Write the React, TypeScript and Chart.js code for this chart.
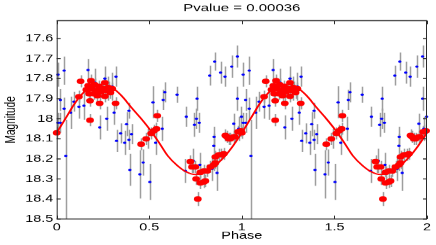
import React, { useEffect, useRef } from 'react';
import { Chart, registerables } from 'chart.js';

Chart.register(...registerables);

// ---- data (one phase cycle, drawn twice: phase 0-1 and 1-2) ----
const cycles = [0, 1];

const bluePhase = [
  0.007, 0.04, 0.02, 0.04, 0.075, 0.093, 0.12, 0.147, 0.169, 0.206,
  0.26, 0.277, 0.30, 0.32, 0.31, 0.27, 0.39, 0.377, 0.007, 0.02,
  0.049, 0.232, 0.323, 0.345, 0.367, 0.39, 0.404, 0.395, 0.449, 0.467,
  0.503, 0.534, 0.57, 0.494, 0.695, 0.737, 0.773, 0.744, 0.77, 0.85,
  0.848, 0.839, 0.866, 0.956, 0.983, 0.52, 0.575, 0.584, 0.65, 0.70,
  0.755, 0.758, 0.826, 0.853, 0.885, 0.909, 0.945, 0.976, 0.976, 0.998,
];
const blueMag = [
  17.78, 17.76, 17.906, 17.95, 17.97, 17.915, 17.94, 17.935, 17.757, 17.82,
  17.80, 17.85, 17.84, 17.79, 17.97, 18.0, 17.96, 18.027, 18.02, 18.02,
  18.185, 18.043, 18.11, 18.073, 18.12, 18.105, 18.077, 18.255, 18.277, 18.218,
  18.315, 18.12, 18.05, 18.10, 18.26, 18.21, 18.23, 18.03, 18.02, 18.09,
  18.135, 18.25, 18.27, 18.025, 18.05, 17.918, 17.906, 17.868, 17.88, 17.99,
  18.0, 17.90, 17.785, 17.715, 17.77, 17.79, 17.74, 17.69, 17.90, 17.99,
];
// error half-lengths (a pair is [towards smaller magnitude, towards larger magnitude])
const blueErr: (number | number[])[] = [
  0.06, 0.07, 0.055, 0.055, 0.08, 0.05, 0.06, 0.07, 0.055, 0.07,
  0.06, 0.06, 0.07, 0.05, 0.06, 0.06, 0.04, 0.06, 0.05, 0.05,
  [0.18, 0.35], 0.06, 0.055, 0.05, 0.06, 0.05, 0.05, 0.08, 0.12, 0.065,
  0.09, 0.06, 0.06, 0.05, 0.06, 0.06, 0.06, 0.06, 0.05, 0.05,
  0.06, 0.06, 0.09, 0.05, 0.06, 0.08, 0.05, 0.05, 0.04, 0.05,
  0.05, 0.06, 0.05, 0.045, 0.055, 0.05, 0.055, 0.055, 0.06, 0.05,
];

const redPhase = [
  0.0, 0.12, 0.129, 0.16, 0.17, 0.175, 0.18, 0.18, 0.185, 0.19,
  0.2, 0.205, 0.215, 0.22, 0.23, 0.232, 0.24, 0.25, 0.26, 0.26,
  0.27, 0.28, 0.29, 0.3, 0.318, 0.456, 0.483, 0.51, 0.525, 0.539,
  0.543, 0.722, 0.731, 0.749, 0.753, 0.762, 0.776, 0.794, 0.803, 0.776,
  0.794, 0.812, 0.83, 0.848, 0.857, 0.857, 0.875, 0.89, 0.902, 0.911,
  0.92, 0.929, 0.938, 0.956, 0.961, 0.98, 0.995,
];
const redMag = [
  18.07, 17.89, 17.813, 17.855, 17.835, 17.875, 17.91, 18.007, 17.81, 17.85,
  17.875, 17.83, 17.86, 17.885, 17.84, 17.923, 17.865, 17.85, 17.82, 17.888,
  17.86, 17.845, 17.87, 17.85, 17.923, 18.127, 18.10, 18.073, 18.06, 18.05,
  17.985, 18.213, 18.24, 18.24, 18.30, 18.40, 18.32, 18.315, 18.31, 18.267,
  18.26, 18.26, 18.24, 18.23, 18.22, 18.19, 18.18, 18.18, 18.175, 18.083,
  18.09, 18.10, 18.10, 18.09, 18.09, 18.065, 18.06,
];
const redErr = [
  0.03, 0.03, 0.03, 0.03, 0.03, 0.03, 0.03, 0.03, 0.03, 0.03,
  0.03, 0.03, 0.03, 0.03, 0.03, 0.03, 0.03, 0.03, 0.03, 0.03,
  0.03, 0.03, 0.03, 0.03, 0.03, 0.03, 0.03, 0.03, 0.03, 0.03,
  0.03, 0.03, 0.03, 0.03, 0.03, 0.035, 0.03, 0.03, 0.03, 0.03,
  0.03, 0.03, 0.03, 0.03, 0.03, 0.03, 0.03, 0.03, 0.03, 0.03,
  0.03, 0.03, 0.03, 0.03, 0.03, 0.03, 0.03,
];

// fitted curve
const fitPhase = [
  0, 0.05, 0.1, 0.15, 0.2, 0.25, 0.3, 0.35, 0.4, 0.45, 0.5,
  0.55, 0.6, 0.65, 0.7, 0.75, 0.8, 0.85, 0.9, 0.95, 1.0,
];
const fitMag = [
  18.07, 17.995, 17.92, 17.865, 17.835, 17.828, 17.845, 17.885, 17.94, 17.993, 18.05,
  18.115, 18.185, 18.232, 18.265, 18.278, 18.268, 18.238, 18.195, 18.138, 18.07,
];

const xTicks = [0, 0.5, 1, 1.5, 2];
const yTicks = [17.6, 17.7, 17.8, 17.9, 18.0, 18.1, 18.2, 18.3, 18.4, 18.5];
const titleText = 'Pvalue = 0.00036';
const xTitle = 'Phase';
const yTitle = 'Magnitude';

// ---- layout ----
const FONT = "'Liberation Sans', Arial, Helvetica, sans-serif";
const W = 436;
const H = 245;
const RH = 350; // drawing height; shown squeezed into H like the source image

function fmt(v: number) {
  return String(Number(v.toFixed(2)));
}

const repeat = (ph: number[], mag: number[], err?: any[]) =>
  cycles.flatMap((c) => ph.map((p, i) => ({ x: p + c, y: mag[i], e: err ? err[i] : 0 })));

const framePlugin = {
  id: 'frameAndErrors',
  beforeDatasetsDraw(chart: any) {
    const { ctx, chartArea: a, scales } = chart;
    const xs = scales.x;
    const ys = scales.y;
    ctx.save();
    ctx.beginPath();
    ctx.rect(a.left, a.top, a.right - a.left, a.bottom - a.top);
    ctx.clip();
    ctx.strokeStyle = 'rgb(158,158,158)';
    ctx.lineWidth = 1.5;
    chart.data.datasets.forEach((ds: any) => {
      if (!ds.errorBars) return;
      ds.data.forEach((p: any) => {
        const up = Array.isArray(p.e) ? p.e[0] : p.e;
        const dn = Array.isArray(p.e) ? p.e[1] : p.e;
        if (!up && !dn) return;
        const px = Math.round(xs.getPixelForValue(p.x)) + 0.5;
        ctx.beginPath();
        ctx.moveTo(px, ys.getPixelForValue(p.y - up));
        ctx.lineTo(px, ys.getPixelForValue(p.y + dn));
        ctx.stroke();
      });
    });
    ctx.restore();
  },
  afterDatasetsDraw(chart: any) {
    const { ctx, chartArea: a, scales } = chart;
    const xs = scales.x;
    const ys = scales.y;
    ctx.save();
    ctx.strokeStyle = '#2a2a2a';
    // horizontal frame lines (thicker because the canvas is squeezed vertically)
    ctx.lineWidth = 1.4;
    ctx.beginPath();
    ctx.moveTo(a.left, a.top); ctx.lineTo(a.right, a.top);
    ctx.moveTo(a.left, a.bottom); ctx.lineTo(a.right, a.bottom);
    ctx.stroke();
    ctx.lineWidth = 1;
    ctx.beginPath();
    ctx.moveTo(a.left + 0.5, a.top); ctx.lineTo(a.left + 0.5, a.bottom);
    ctx.moveTo(a.right - 0.5, a.top); ctx.lineTo(a.right - 0.5, a.bottom);
    // x ticks, pointing inwards, bottom and top
    xTicks.forEach((v) => {
      const px = Math.round(xs.getPixelForValue(v)) + 0.5;
      ctx.moveTo(px, a.bottom); ctx.lineTo(px, a.bottom - 5);
      ctx.moveTo(px, a.top); ctx.lineTo(px, a.top + 5);
    });
    ctx.stroke();
    ctx.lineWidth = 1.4;
    ctx.beginPath();
    yTicks.forEach((v) => {
      const py = ys.getPixelForValue(v);
      ctx.moveTo(a.left, py); ctx.lineTo(a.left + 4, py);
      ctx.moveTo(a.right, py); ctx.lineTo(a.right - 4, py);
    });
    ctx.stroke();
    ctx.restore();
  },
};

export default function App() {
  const ref = useRef<HTMLCanvasElement | null>(null);

  useEffect(() => {
    const canvas = ref.current;
    if (!canvas) return;
    const chart = new Chart(canvas, {
      type: 'scatter',
      data: {
        datasets: [
          {
            data: cycles.flatMap((c, ci) =>
              fitPhase
                .map((p, i) => ({ x: p + c, y: fitMag[i] }))
                .filter((_, i) => ci === 0 || i > 0)
            ),
            showLine: true,
            borderColor: '#ff0000',
            borderWidth: 2,
            pointRadius: 0,
            cubicInterpolationMode: 'monotone',
            order: 0,
            clip: false,
          } as any,
          {
            data: repeat(redPhase, redMag, redErr),
            errorBars: true,
            backgroundColor: '#ff0000',
            borderWidth: 0,
            pointRadius: 3.9,
            order: 1,
            clip: false,
          } as any,
          {
            data: repeat(bluePhase, blueMag, blueErr),
            errorBars: true,
            backgroundColor: '#0000ff',
            borderColor: '#0000ff',
            borderWidth: 0,
            pointRadius: 1.7,
            order: 2,
            clip: false,
          } as any,
        ],
      },
      options: {
        responsive: false,
        animation: false,
        events: [],
        layout: { padding: { left: 0, right: 9, top: 0, bottom: 0 } },
        plugins: {
          legend: { display: false },
          tooltip: { enabled: false },
          title: {
            display: true,
            text: titleText,
            fullSize: false,
            color: '#000',
            font: { family: FONT, size: 15, weight: 'normal' },
            padding: { top: 3, bottom: 8.5 },
          } as any,
        },
        scales: {
          x: {
            type: 'linear',
            min: 0,
            max: 2,
            grid: { display: false, drawTicks: false },
            border: { display: false },
            afterBuildTicks: (s: any) => {
              s.ticks = xTicks.map((v) => ({ value: v }));
            },
            afterFit: (s: any) => {
              s.height = 37.1;
            },
            ticks: {
              autoSkip: false,
              maxRotation: 0,
              padding: 3,
              color: '#000',
              font: { family: FONT, size: 14.4 },
              callback: (v: any) => fmt(Number(v)),
            },
            title: {
              display: true,
              text: xTitle,
              color: '#000',
              font: { family: FONT, size: 14.5 },
              padding: { top: 0, bottom: 4.4 },
            },
          },
          y: {
            type: 'linear',
            reverse: true,
            min: 17.511,
            max: 18.5,
            grid: { display: false, drawTicks: false },
            border: { display: false },
            afterBuildTicks: (s: any) => {
              s.ticks = yTicks.map((v) => ({ value: v }));
            },
            afterFit: (s: any) => {
              s.width = 56.7;
            },
            ticks: {
              autoSkip: false,
              padding: 3.4,
              color: '#000',
              font: { family: FONT, size: 14.4 },
              callback: (v: any) => fmt(Number(v)),
            },
            title: {
              display: true,
              text: yTitle,
              color: '#000',
              font: { family: FONT, size: 14.5 },
              padding: { top: 2.3, bottom: 0 },
            },
          },
        },
      } as any,
      plugins: [framePlugin],
    });
    return () => chart.destroy();
  }, []);

  return (
    <div style={{ position: 'fixed', left: 0, top: 0, width: W, height: H, background: '#fff' }}>
      <canvas
        ref={ref}
        width={W}
        height={RH}
        style={{ display: 'block', width: W + 'px', height: H + 'px' }}
      />
    </div>
  );
}
